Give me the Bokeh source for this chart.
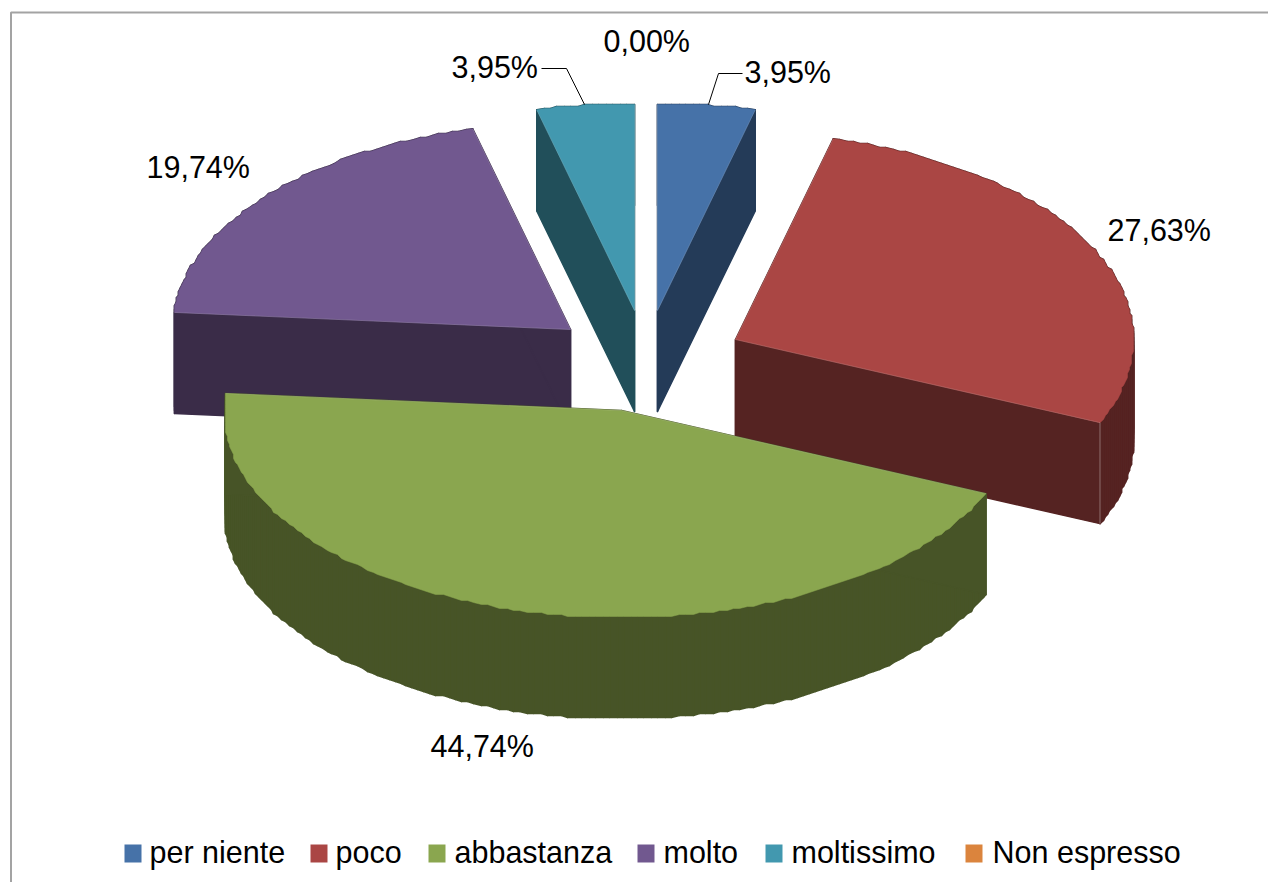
import math
from bokeh.plotting import figure
from bokeh.models import Range1d
from bokeh.core.properties import value
from bokeh.embed import file_html
from bokeh.resources import INLINE

categories = ["per niente", "poco", "abbastanza", "molto", "moltissimo", "Non espresso"]
shares = [3.95, 27.63, 44.74, 19.74, 3.95, 0.00]
share_labels = ["3,95%", "27,63%", "44,74%", "19,74%", "3,95%", "0,00%"]

top_colors = ["#4672A8", "#AA4644", "#8AA64F", "#71588F", "#4298AF", "#DB843D"]
side_colors = ["#243B58", "#552322", "#475427", "#3A2C48", "#214F5A", "#6E4220"]

# layout (image pixels)
APEX = [(657, 310), (735, 339), (621, 410), (570, 329), (634, 310), (645, 310)]
RX, RY = 398, 207
CLAMP_LEFT, CLAMP_RIGHT, CLAMP_Y = 396, 398, 206
DEPTH = 101
GRID = 2
LABEL_POS = [(744, 71), (1107, 229), (430, 745), (146, 166), (451, 66), (603, 40)]
LEADERS = {0: ([708, 718, 742], [104, 73, 73]), 4: ([584, 566, 541], [104, 68, 68])}
LEGEND_SQ = [124, 310, 428, 637, 765, 965]
LEGEND_TX = [149, 335, 454, 663, 791, 992]
LEGEND_BASE = 851
FONT = value("Liberation Sans")
FONT_SIZE = "30.5px"

p = figure(width=1268, height=882, output_backend="svg", toolbar_location=None,
           x_range=Range1d(0, 1268), y_range=Range1d(882, 0),
           min_border=0, outline_line_color=None, background_fill_color="white")
p.xaxis.visible = False
p.yaxis.visible = False
p.grid.visible = False

# chart frame
p.line([10.5, 10.5, 1268], [882, 12, 12], line_color="#A3A3A3", line_width=2)


def q(v):
    return round(v / GRID) * GRID


def arc(i, t0, t1):
    ax, ay = APEX[i]
    n = max(2, int(abs(t1 - t0) * 180 / math.pi))
    xs, ys = [], []
    for k in range(n + 1):
        t = t0 + (t1 - t0) * k / n
        dx = max(-CLAMP_LEFT, min(CLAMP_RIGHT, RX * math.sin(t)))
        dy = max(-CLAMP_Y, min(CLAMP_Y, -RY * math.cos(t)))
        if 0 < k < n:
            xs.append(ax + q(dx))
            ys.append(ay + q(dy))
        else:
            xs.append(ax + dx)
            ys.append(ay + dy)
    return xs, ys


total = sum(shares)
spans = []
c = 0.0
for s in shares:
    t0 = c / total * 2 * math.pi
    c += s
    spans.append((t0, c / total * 2 * math.pi))

for i in [3, 4, 0, 1, 2]:
    t0, t1 = spans[i]
    ax, ay = APEX[i]
    xs, ys = arc(i, t0, t1)
    # outer wall, one quad per arc step
    wall_x = [[xs[k], xs[k + 1], xs[k + 1], xs[k]] for k in range(len(xs) - 1)]
    wall_y = [[ys[k], ys[k + 1], ys[k + 1] + DEPTH, ys[k] + DEPTH] for k in range(len(xs) - 1)]
    # radial walls
    for ex, ey in [(xs[0], ys[0]), (xs[-1], ys[-1])]:
        wall_x.append([ax, ex, ex, ax])
        wall_y.append([ay, ey, ey + DEPTH, ay + DEPTH])
    p.patches(wall_x, wall_y, fill_color=side_colors[i], line_color=side_colors[i], line_width=1.5,
              line_join="round")
    # top face
    p.patch([ax] + xs, [ay] + ys, fill_color=top_colors[i], line_color=top_colors[i], line_width=0.5)
    # faint seams along the radial edges
    for ex, ey in [(xs[0], ys[0]), (xs[-1], ys[-1])]:
        p.line([ax, ex], [ay, ey], line_color="white", line_alpha=0.15, line_width=1)
    if i == 1:
        p.line([xs[-1], xs[-1]], [ys[-1], ys[-1] + DEPTH], line_color="white", line_alpha=0.35, line_width=1)

for i, (lx, ly) in LEADERS.items():
    p.line(lx, ly, line_color="black", line_width=1)

for i, lab in enumerate(share_labels):
    p.text([LABEL_POS[i][0]], [LABEL_POS[i][1]], text=[lab], text_font=FONT, text_font_size=FONT_SIZE,
           text_color="black", text_align="left", text_baseline="alphabetic")

for i, cat in enumerate(categories):
    p.quad(left=[LEGEND_SQ[i]], right=[LEGEND_SQ[i] + 17], top=[844], bottom=[862],
           fill_color=top_colors[i], line_color=None)
    p.text([LEGEND_TX[i]], [LEGEND_BASE], text=[cat], text_font=FONT, text_font_size=FONT_SIZE,
           text_color="black", text_align="left", text_baseline="alphabetic")

open("out.html", "w").write(file_html(p, INLINE))
